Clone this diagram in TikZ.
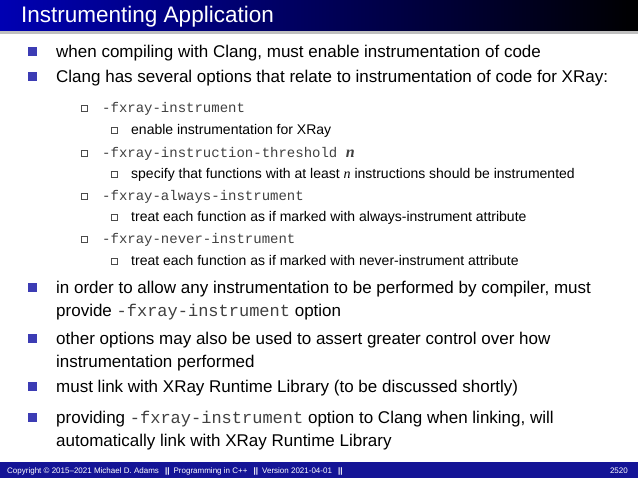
\documentclass[tikz,border=0pt]{standalone}
\usepackage{fontspec}
\setmainfont{Liberation Sans}
\newfontfamily\monof{Liberation Mono}
\newfontfamily\serf{Liberation Serif}
\definecolor{bul}{RGB}{60,60,180}
\definecolor{foot}{RGB}{20,20,150}
\begin{document}
\begin{tikzpicture}[x=1pt,y=-1pt,
  tx/.style={anchor=base west,inner sep=0pt,font=\fontsize{17}{20}\selectfont},
  st/.style={anchor=base west,inner sep=0pt,font=\fontsize{14}{16}\selectfont},
  mt/.style={anchor=base west,inner sep=0pt,font=\monof\fontsize{14}{16}\selectfont,text=black!75},
  bl/.style={fill=bul,minimum size=9pt,inner sep=0pt,anchor=center},
  hb/.style={draw=black!70,line width=0.5pt,minimum size=6pt,inner sep=0pt,anchor=center},
  ft/.style={anchor=base west,inner sep=0pt,text=white,font=\fontsize{8}{10}\selectfont}]
\useasboundingbox (0,0) rectangle (638,478);
\fill[white] (0,0) rectangle (638,478);
\fill[black!25] (0,31) rectangle (638,34);
\shade[left color=blue!70!black, right color=black] (0,0) rectangle (638,31);
\node[anchor=base west,inner sep=0pt,text=white,font=\fontsize{22.5}{26}\selectfont] (title) at (21,23) {Instrumenting Application};
\newcommand\myMain[3]{\node[bl] (b#1) at (32,#2-6) {}; \node[tx] (t#1) at (56,#2) {#3};}
\newcommand\mySub[3]{\node[hb] (s#1) at (84,#2-5) {}; \node[mt] (m#1) at (102,#2) {#3};}
\newcommand\mySubSub[3]{\node[hb] (u#1) at (114,#2-5) {}; \node[st] (v#1) at (131,#2) {#3};}
\myMain{1}{58}{when compiling with Clang, must enable instrumentation of code}
\myMain{2}{83}{Clang has several options that relate to instrumentation of code for XRay:}
\mySub{1}{113}{-fxray-instrument}
\mySubSub{1}{135}{enable instrumentation for XRay}
\mySub{2}{158}{-fxray-instruction-threshold {\serf\itshape\bfseries\fontsize{16}{18}\selectfont n}}
\mySubSub{2}{179}{specify that functions with at least {\serf\itshape n} instructions should be instrumented}
\mySub{3}{201}{-fxray-always-instrument}
\mySubSub{3}{222}{treat each function as if marked with always-instrument attribute}
\mySub{4}{244}{-fxray-never-instrument}
\mySubSub{4}{266}{treat each function as if marked with never-instrument attribute}
\myMain{3}{294}{in order to allow any instrumentation to be performed by compiler, must}
\node[tx] (t3b) at (56,317) {provide {\monof\color{black!75}-fxray-instrument} option};
\myMain{4}{345}{other options may also be used to assert greater control over how}
\node[tx] (t4b) at (56,368) {instrumentation performed};
\myMain{5}{393}{must link with XRay Runtime Library (to be discussed shortly)}
\myMain{6}{424}{providing {\monof\color{black!75}-fxray-instrument} option to Clang when linking, will}
\node[tx] (t6b) at (56,447) {automatically link with XRay Runtime Library};
\fill[foot] (0,462) rectangle (638,478);
\node[ft] (f1) at (7,473.5) {Copyright \textcopyright\ 2015--2021 Michael D. Adams \enspace\textbf{||}\enspace Programming in C++ \enspace\textbf{||}\enspace Version 2021-04-01 \enspace\textbf{||}};
\node[ft,anchor=base east] (f2) at (628,473.5) {2520};
\end{tikzpicture}
\end{document}
